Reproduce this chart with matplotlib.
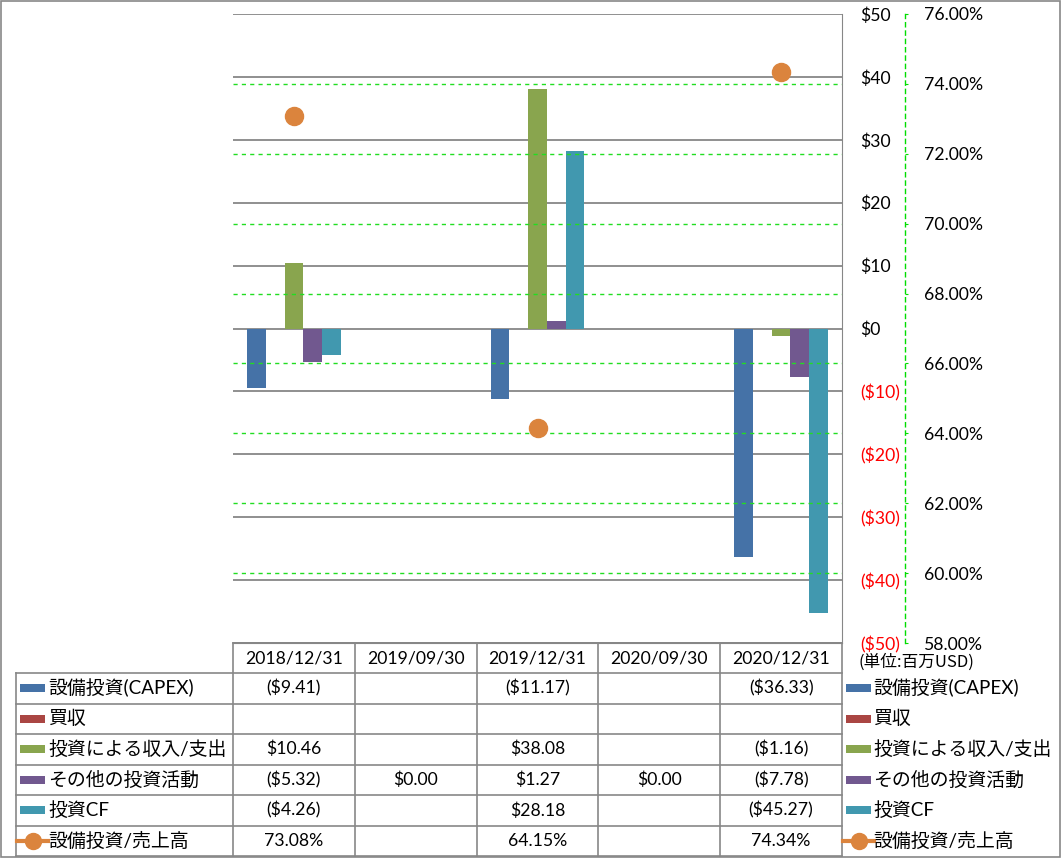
import matplotlib
matplotlib.use("Agg")
import matplotlib.pyplot as plt
import numpy as np
from matplotlib.patches import Rectangle
from matplotlib.lines import Line2D
from matplotlib.ticker import FuncFormatter, MultipleLocator

plt.rcParams["font.family"] = ["Lato", "Noto Sans CJK JP", "DejaVu Sans"]

dates = ["2018/12/31", "2019/09/30", "2019/12/31", "2020/09/30", "2020/12/31"]
capex = [-9.41, None, -11.17, None, -36.33]
acquisition = [None, None, None, None, None]
invest_income = [10.46, None, 38.08, None, -1.16]
other_invest = [-5.32, 0.00, 1.27, 0.00, -7.78]
invest_cf = [-4.26, None, 28.18, None, -45.27]
capex_ratio = [73.08, None, 64.15, None, 74.34]

bar_names = ["設備投資(CAPEX)", "買収", "投資による収入/支出", "その他の投資活動", "投資CF"]
line_name = "設備投資/売上高"
bar_series = [capex, acquisition, invest_income, other_invest, invest_cf]
bar_colors = ["#4572A7", "#AA4643", "#89A54E", "#71588F", "#4198AF"]
line_color = "#DB843D"

W, H = 1061, 858
GRAY = "#878787"
FS = 12.7      # numbers
FS_JP = 13.6   # japanese labels

fig = plt.figure(figsize=(W / 100, H / 100), dpi=100)

# overlay in pixel coordinates for table, legend and border
ov = fig.add_axes([0, 0, 1, 1])
ov.set_xlim(0, W)
ov.set_ylim(H, 0)
ov.axis("off")

# main chart area
x0, x1, y0, y1 = 233, 842, 14, 643
ax = fig.add_axes([x0 / W, 1 - y1 / H, (x1 - x0) / W, (y1 - y0) / H])
ax.set_facecolor("none")
n = len(dates)
x = np.arange(n)
bw = 0.154
for k, (vals, col) in enumerate(zip(bar_series, bar_colors)):
    v = np.array([np.nan if a is None else a for a in vals], dtype=float)
    ax.bar(x + (k - 2) * bw, v, width=bw, color=col, zorder=3)
ax.set_xlim(-0.5, n - 0.5)
ax.set_ylim(-50, 50)
ax.set_xticks([])


def money(v, pos=None):
    if v < 0:
        return f"(${-v:.0f})"
    return f"${v:.0f}"


ax.grid(axis="y", color=GRAY, linewidth=1.3, zorder=1)
for s in ["left", "top"]:
    ax.spines[s].set_visible(False)
ax.spines["right"].set_color(GRAY)
ax.spines["bottom"].set_color(GRAY)

ax2 = ax.twinx()
ax2.set_ylim(58, 76)
ax2.yaxis.set_major_locator(MultipleLocator(2))
ax2.yaxis.set_major_formatter(FuncFormatter(lambda v, p: f"{v:.2f}%"))
for s in ["left", "top", "bottom"]:
    ax2.spines[s].set_visible(False)
ax2.spines["right"].set_position(("axes", (905 - x0) / (x1 - x0)))
ax2.spines["right"].set_color("#00DD00")
ax2.spines["right"].set_linestyle((0, (3, 3)))
ax2.spines["right"].set_linewidth(1)
ax2.tick_params(axis="y", length=2.5, color="#00DD00", pad=11, labelsize=FS)
for t in np.arange(60, 76, 2):
    ax2.axhline(t, color="#22DD22", linewidth=1, linestyle=(0, (3, 3)), zorder=1)
ratio = np.array([np.nan if a is None else a for a in capex_ratio], dtype=float)
ax2.plot(x, ratio, color=line_color, marker="o", markersize=13, linewidth=2.5, zorder=4)

# primary axis labels on the right (after twinx, which resets them)
ax.yaxis.tick_right()
ax.yaxis.set_major_locator(MultipleLocator(10))
ax.yaxis.set_major_formatter(FuncFormatter(money))
ax.tick_params(axis="y", length=0, pad=13, labelsize=FS)

ov.text(858, 662, "(単位:百万USD)", fontsize=12, va="center", ha="left",
        family=["Noto Sans CJK JP"])

# data table
rows_y = [643, 673, 703.5, 734, 764.5, 795, 825.5, 856]
col_w = (x1 - x0) / n
tb_left = 16
ln = dict(color=GRAY, linewidth=1.2)
ov.plot([x0, x1], [rows_y[0], rows_y[0]], **ln)
for yy in rows_y[1:]:
    ov.plot([tb_left, x1], [yy, yy], **ln)
ov.plot([tb_left, tb_left], [rows_y[1], rows_y[-1]], **ln)
for i in range(n + 1):
    xx = x0 + i * col_w
    ov.plot([xx, xx], [rows_y[0], rows_y[-1]], **ln)
for i, d in enumerate(dates):
    ov.text(x0 + (i + 0.5) * col_w, (rows_y[0] + rows_y[1]) / 2, d,
            ha="center", va="center", fontsize=FS)


def fmt_money(v):
    if v is None:
        return ""
    if v < 0:
        return f"(${-v:.2f})"
    return f"${v:.2f}"


table_rows = [[fmt_money(v) for v in s] for s in bar_series]
table_rows.append(["" if v is None else f"{v:.2f}%" for v in capex_ratio])
names = bar_names + [line_name]


def legend_key(xk, yc, idx):
    if idx < len(bar_colors):
        ov.add_patch(Rectangle((xk, yc - 4), 25, 8, color=bar_colors[idx], lw=0))
    else:
        ov.add_line(Line2D([xk - 3, xk + 28], [yc, yc], color=line_color, linewidth=3))
        ov.plot([xk + 12.5], [yc], marker="o", markersize=11.5, color=line_color)


for r, (name, vals) in enumerate(zip(names, table_rows)):
    yc = (rows_y[r + 1] + rows_y[r + 2]) / 2
    legend_key(20, yc, r)
    ov.text(48, yc, name, ha="left", va="center", fontsize=FS_JP)
    for i, t in enumerate(vals):
        ov.text(x0 + (i + 0.5) * col_w, yc, t, ha="center", va="center", fontsize=FS)
    # right legend
    legend_key(846, yc, r)
    ov.text(873, yc, name, ha="left", va="center", fontsize=FS_JP)

ov.add_patch(Rectangle((1, 1), W - 2.5, H - 2.5, fill=False, edgecolor=GRAY, linewidth=1.2))

fig.canvas.draw()
for lbl, val in zip(ax.yaxis.get_ticklabels(), ax.get_yticks()):
    if val < 0:
        lbl.set_color("#FF0000")

fig.savefig("out.png", dpi=100)
